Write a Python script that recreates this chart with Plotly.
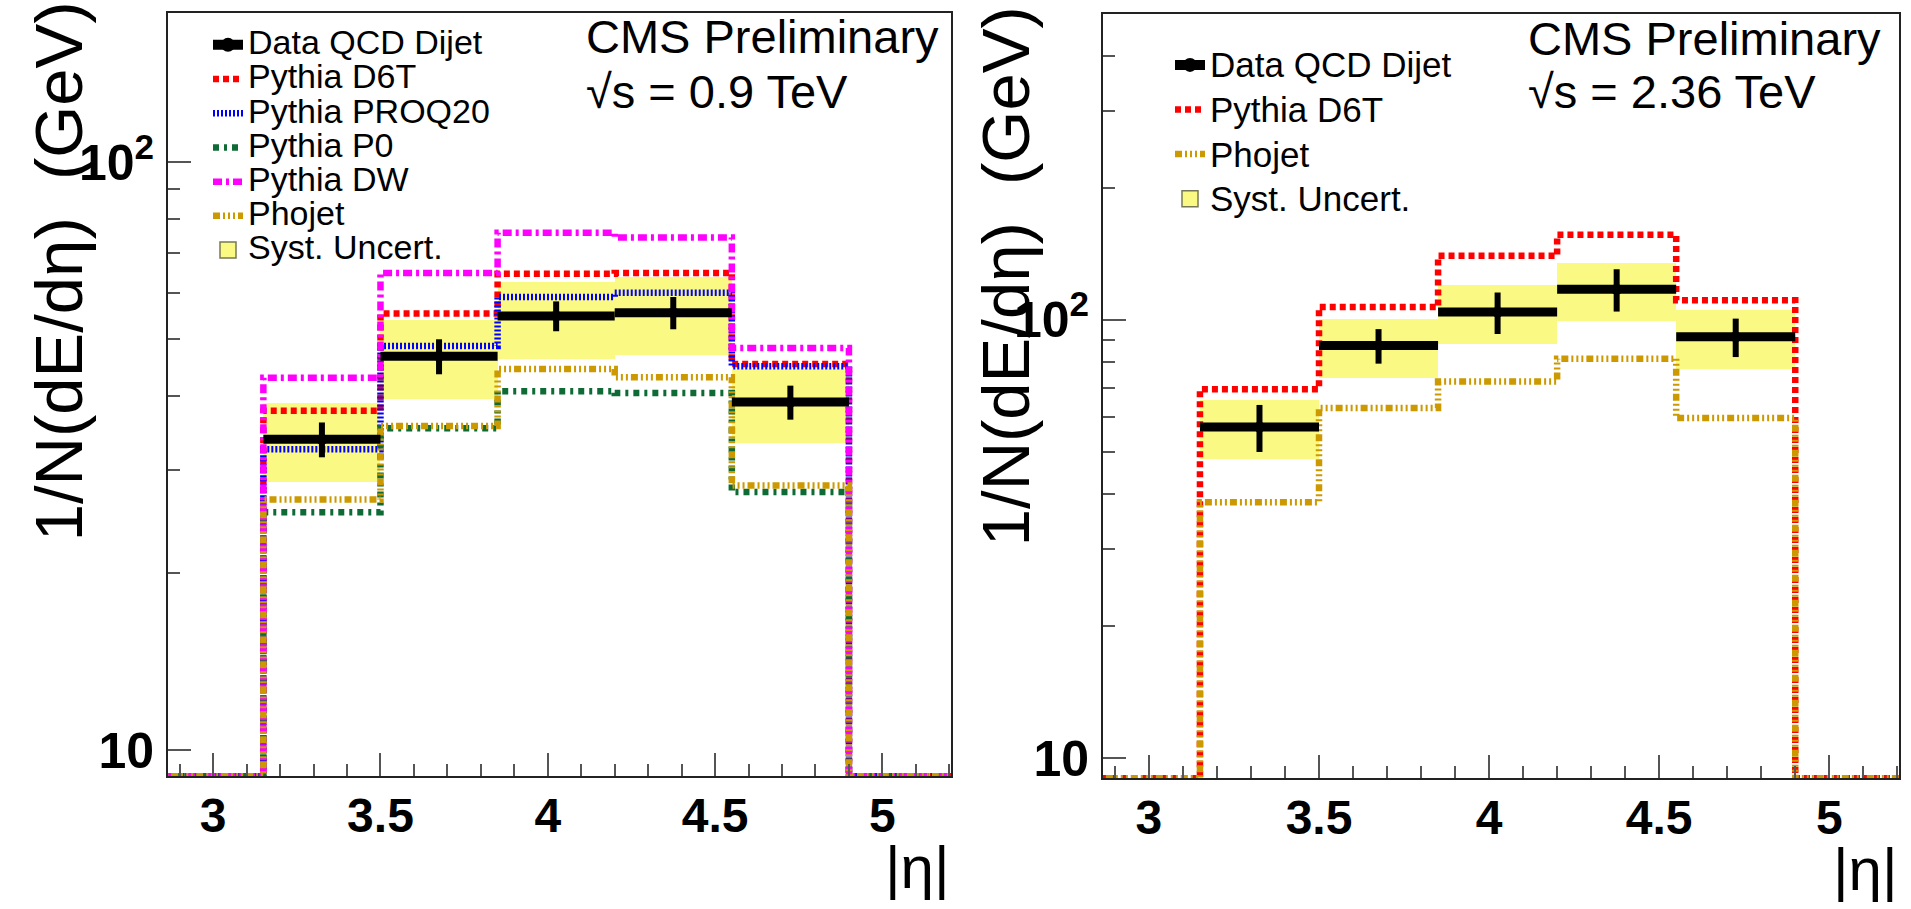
import plotly.graph_objects as go

# ---------------- data ----------------
# histogram bin edges in |eta| (first and last bins are empty)
BIN_EDGES = [2.8, 3.15, 3.5, 3.85, 4.2, 4.55, 4.9, 5.25]

# left panel: sqrt(s) = 0.9 TeV
L_DATA = [33.8, 46.8, 54.8, 55.5, 39.1]
L_DATA_ERR = [2.3, 3.2, 3.2, 3.5, 2.6]
L_SYST_LO = [28.6, 39.6, 46.4, 47.0, 33.3]
L_SYST_HI = [39.0, 54.0, 62.5, 63.8, 44.5]
L_D6T = [37.8, 55.3, 64.6, 64.8, 45.4]
L_PROQ20 = [32.5, 48.7, 59.0, 60.0, 45.0]
L_P0 = [25.4, 35.3, 40.8, 40.5, 27.5]
L_DW = [43.0, 64.8, 75.9, 74.5, 48.3]
L_PHOJET = [26.7, 35.6, 44.5, 43.1, 28.2]

# right panel: sqrt(s) = 2.36 TeV
R_DATA = [57.0, 87.4, 104.2, 117.5, 91.5]
R_DATA_ERR = [7.0, 7.9, 11.3, 13.0, 9.2]
R_SYST_LO = [48.3, 73.6, 88.3, 99.5, 77.4]
R_SYST_HI = [65.6, 100.5, 120.0, 135.2, 105.3]
R_D6T = [69.5, 107.0, 140.0, 156.4, 110.9]
R_PHOJET = [38.4, 63.0, 72.4, 81.6, 59.8]

X_TICKS = [3, 3.5, 4, 4.5, 5]
X_TICK_TEXT = ["3", "3.5", "4", "4.5", "5"]
Y_TICKS = [10, 100]
Y_TICK_TEXT = ["10", "10<sup>2</sup>"]
Y_MINOR = [20, 30, 40, 50, 60, 70, 80, 90, 200, 300, 400, 500]

# ---------------- styling ----------------
W, H = 1911, 909
FONT = "Liberation Sans, Arial, Helvetica, sans-serif"
YELLOW = "#F9F983"
X_RANGE = [2.865, 5.205]
L_YRANGE = [0.956, 2.254]
R_YRANGE = [0.955, 2.698]
LW = 6.5


def fx(p):
    return p / W


def fy(p):
    return 1 - p / H


def centers(edges):
    return [(edges[i] + edges[i + 1]) / 2 for i in range(1, len(edges) - 2)]


def halfwidths(edges):
    return [(edges[i + 1] - edges[i]) / 2 for i in range(1, len(edges) - 2)]


def widths(edges):
    return [(edges[i + 1] - edges[i]) for i in range(1, len(edges) - 2)]


def step_y(vals, yr):
    floor = 10 ** yr[0]
    ys = [floor] + list(vals) + [floor]
    return ys + [ys[-1]]


def lab(t, size):
    return f"<span style='font-size:{size}px'>{t}</span>"


fig = go.Figure()


def add_panel(xa, ya, leg, yr, syst_lo, syst_hi, models, data, derr, fs):
    # systematic band
    fig.add_trace(go.Bar(
        x=centers(BIN_EDGES), y=[h - l for h, l in zip(syst_hi, syst_lo)],
        base=syst_lo, width=widths(BIN_EDGES),
        marker=dict(color=YELLOW, line=dict(width=0)),
        showlegend=False, xaxis=xa, yaxis=ya, hoverinfo="skip"))
    # model histograms
    for rank, (name, vals, color, dash) in enumerate(models, start=2):
        fig.add_trace(go.Scatter(
            x=BIN_EDGES, y=step_y(vals, yr), mode="lines", line_shape="hv",
            line=dict(color=color, width=LW, dash=dash),
            name=lab(name, fs), legend=leg, legendrank=rank,
            xaxis=xa, yaxis=ya))
    # data
    fig.add_trace(go.Scatter(
        x=centers(BIN_EDGES), y=data, mode="markers",
        marker=dict(color="black", size=11),
        error_x=dict(type="data", array=halfwidths(BIN_EDGES), thickness=9,
                     width=0, color="black"),
        error_y=dict(type="data", array=derr, thickness=6, width=0,
                     color="black"),
        showlegend=False, xaxis=xa, yaxis=ya))
    # legend-only entries
    fig.add_trace(go.Scatter(
        x=[None], y=[None], mode="lines+markers",
        line=dict(color="black", width=10),
        marker=dict(color="black", size=14),
        name=lab("Data QCD Dijet", fs), legend=leg, legendrank=1,
        xaxis=xa, yaxis=ya))
    fig.add_trace(go.Scatter(
        x=[None], y=[None], mode="markers",
        marker=dict(symbol="square", color=YELLOW, size=30,
                    line=dict(color="#777755", width=1.5)),
        name=lab("Syst. Uncert.", fs), legend=leg, legendrank=20,
        xaxis=xa, yaxis=ya))


RED, BLUE, GREEN, MAG, GOLD = "#FF0000", "#0000FF", "#0F6B35", "#FF00FF", "#CC9900"

add_panel("x", "y", "legend", L_YRANGE, L_SYST_LO, L_SYST_HI, [
    ("Pythia D6T", L_D6T, RED, "6px,4px"),
    ("Pythia PROQ20", L_PROQ20, BLUE, "2px,2px"),
    ("Pythia P0", L_P0, GREEN, "6px,5px,3px,5px"),
    ("Pythia DW", L_DW, MAG, "9px,4px,3px,4px"),
    ("Phojet", L_PHOJET, GOLD, "7px,3px,2px,3px,2px,3px,2px,3px"),
], L_DATA, L_DATA_ERR, 34)

add_panel("x2", "y2", "legend2", R_YRANGE, R_SYST_LO, R_SYST_HI, [
    ("Pythia D6T", R_D6T, RED, "6px,4px"),
    ("Phojet", R_PHOJET, GOLD, "7px,3px,2px,3px,2px,3px,2px,3px"),
], R_DATA, R_DATA_ERR, 35)


def xaxis(dom, anchor):
    return dict(domain=dom, anchor=anchor, range=X_RANGE, showgrid=False,
                zeroline=False, showline=True, linecolor="#222", linewidth=2,
                mirror=True, ticks="inside", ticklen=23, tickwidth=2,
                tickcolor="#555", tickvals=X_TICKS, ticktext=X_TICK_TEXT,
                tickfont=dict(family=FONT, size=48, color="black", weight="bold"),
                minor=dict(ticks="inside", ticklen=12, tickwidth=1.5,
                           tickcolor="#555", dtick=0.1, tick0=0, showgrid=False),
                ticklabelstandoff=-4)


def yaxis(dom, anchor, yr):
    return dict(domain=dom, anchor=anchor, type="log", range=yr,
                showgrid=False, zeroline=False, showline=True,
                linecolor="#222", linewidth=2, mirror=True, ticks="inside",
                ticklen=23, tickwidth=2, tickcolor="#555",
                tickvals=Y_TICKS, ticktext=Y_TICK_TEXT,
                tickfont=dict(family=FONT, size=50, color="black", weight="bold"),
                minor=dict(ticks="inside", ticklen=12, tickwidth=1.5,
                           tickcolor="#555", tickmode="array",
                           tickvals=Y_MINOR, showgrid=False),
                ticklabelstandoff=2)


YT = "1/N(dE/dη)\u00a0\u00a0(GeV)"
annotations = [
    dict(text=YT, x=fx(58), y=fy(274), xref="paper", yref="paper",
         textangle=-90, showarrow=False, xanchor="center", yanchor="middle",
         font=dict(family=FONT, size=67, color="black")),
    dict(text=YT, x=fx(1005), y=fy(279), xref="paper", yref="paper",
         textangle=-90, showarrow=False, xanchor="center", yanchor="middle",
         font=dict(family=FONT, size=67, color="black")),
    dict(text="CMS Preliminary", x=fx(584), y=fy(37), xref="paper",
         yref="paper", showarrow=False, xanchor="left", yanchor="middle",
         font=dict(family=FONT, size=47, color="black")),
    dict(text="√s = 0.9 TeV", x=fx(584), y=fy(92), xref="paper",
         yref="paper", showarrow=False, xanchor="left", yanchor="middle",
         font=dict(family=FONT, size=47, color="black")),
    dict(text="CMS Preliminary", x=fx(1526), y=fy(39), xref="paper",
         yref="paper", showarrow=False, xanchor="left", yanchor="middle",
         font=dict(family=FONT, size=47, color="black")),
    dict(text="√s = 2.36 TeV", x=fx(1526), y=fy(92), xref="paper",
         yref="paper", showarrow=False, xanchor="left", yanchor="middle",
         font=dict(family=FONT, size=47, color="black")),
    dict(text="|η|", x=fx(952), y=fy(876), xref="paper", yref="paper",
         showarrow=False, xanchor="right", yanchor="middle",
         font=dict(family=FONT, size=60, color="black")),
    dict(text="|η|", x=fx(1900), y=fy(878), xref="paper", yref="paper",
         showarrow=False, xanchor="right", yanchor="middle",
         font=dict(family=FONT, size=60, color="black")),
]

fig.update_layout(
    width=W, height=H, margin=dict(l=0, r=0, t=0, b=0),
    paper_bgcolor="white", plot_bgcolor="white",
    xaxis=xaxis([fx(168), fx(951)], "y"),
    yaxis=yaxis([fy(784), fy(13)], "x", L_YRANGE),
    xaxis2=xaxis([fx(1103), fx(1899)], "y2"),
    yaxis2=yaxis([fy(786), fy(14)], "x2", R_YRANGE),
    legend=dict(x=fx(208), y=fy(23), xanchor="left", yanchor="top",
                bgcolor="rgba(0,0,0,0)", borderwidth=0, traceorder="normal",
                font=dict(family=FONT, size=24, color="black"),
                tracegroupgap=0),
    legend2=dict(x=fx(1170), y=fy(38), xanchor="left", yanchor="top",
                 bgcolor="rgba(0,0,0,0)", borderwidth=0, traceorder="normal",
                 font=dict(family=FONT, size=32, color="black"),
                 tracegroupgap=0),
    annotations=annotations,
    bargap=0,
    showlegend=True,
)

fig.write_html("out.html")
